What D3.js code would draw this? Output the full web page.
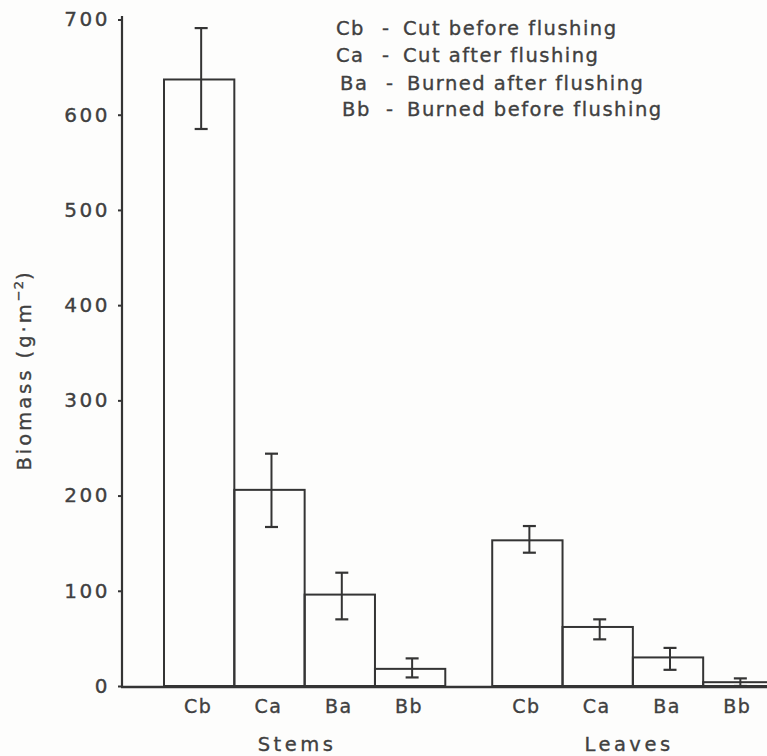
<!DOCTYPE html>
<html>
<head>
<meta charset="utf-8">
<script src="https://cdn.jsdelivr.net/npm/d3@7"></script>
<style>
  html, body { margin: 0; padding: 0; background: #fdfdfc; }
  svg { display: block; }
  text { font-family: "DejaVu Sans", sans-serif; fill: #404040; stroke: #404040; stroke-width: 0.35px; }
</style>
</head>
<body>
<svg id="chart" width="767" height="756"></svg>
<script>
// ---- data ----
const groups = ["Stems", "Leaves"];
const treatments = ["Cb", "Ca", "Ba", "Bb"];
const stemsMean  = [637, 206, 96, 18];
const stemsLow   = [585, 167, 70, 9];
const stemsHigh  = [691, 244, 119, 29];
const leavesMean = [153, 62, 30, 4];
const leavesLow  = [140, 49, 17, 0];
const leavesHigh = [168, 70, 40, 8];
const yTicks = [0, 100, 200, 300, 400, 500, 600, 700];
const legendCodes  = ["Cb", "Ca", "Ba", "Bb"];
const legendLabels = ["Cut before flushing", "Cut after flushing", "Burned after flushing", "Burned before flushing"];

const means = { Stems: stemsMean, Leaves: leavesMean };
const lows  = { Stems: stemsLow,  Leaves: leavesLow };
const highs = { Stems: stemsHigh, Leaves: leavesHigh };
const rows = [];
groups.forEach(g => treatments.forEach((t, i) => rows.push({
  group: g, t, v: means[g][i], lo: lows[g][i], hi: highs[g][i]
})));

// ---- layout ----
const svg = d3.select("#chart");
const ink = "#343434";
const txt = "#404040";
const axisX = 122, baseY = 686;

const y = d3.scaleLinear().domain([0, 700]).range([baseY, 19.5]);
const x0 = d3.scaleBand().domain(groups).range([164, 773.5]).paddingInner(0.143).paddingOuter(0);
const x1 = d3.scaleBand().domain(treatments).range([0, x0.bandwidth()]).padding(0);

// bars
const g = svg.append("g");
g.selectAll("rect.bar").data(rows).enter().append("rect")
  .attr("class", "bar")
  .attr("x", d => x0(d.group) + x1(d.t))
  .attr("y", d => y(d.v))
  .attr("width", x1.bandwidth())
  .attr("height", d => y(0) - y(d.v))
  .attr("fill", "none")
  .attr("stroke", ink)
  .attr("stroke-width", 2);

// error bars
const cap = 6.5;
const eb = g.selectAll("g.err").data(rows).enter().append("g").attr("class", "err")
  .attr("transform", d => `translate(${x0(d.group) + x1(d.t) + x1.bandwidth() / 2 + 2},0)`);
eb.append("line").attr("x1", 0).attr("x2", 0)
  .attr("y1", d => y(d.lo)).attr("y2", d => y(d.hi))
  .attr("stroke", ink).attr("stroke-width", 2);
eb.append("line").attr("x1", -cap).attr("x2", cap)
  .attr("y1", d => y(d.hi)).attr("y2", d => y(d.hi))
  .attr("stroke", ink).attr("stroke-width", 2.2);
eb.append("line").attr("x1", -cap).attr("x2", cap)
  .attr("y1", d => y(d.lo)).attr("y2", d => y(d.lo))
  .attr("stroke", ink).attr("stroke-width", 2.2);

// y axis
const yAxis = svg.append("g").attr("transform", `translate(${axisX},0)`)
  .call(d3.axisLeft(y).tickValues(yTicks).tickSize(4).tickPadding(8).tickSizeOuter(0));
yAxis.select(".domain").remove();
yAxis.selectAll(".tick line").attr("stroke", ink).attr("stroke-width", 2);
yAxis.selectAll(".tick text")
  .style("font-family", "DejaVu Sans").style("font-size", "20px")
  .style("letter-spacing", "2.5px").attr("fill", txt).attr("dx", "0px");
svg.append("line").attr("x1", axisX).attr("x2", axisX).attr("y1", 16).attr("y2", baseY + 1)
  .attr("stroke", ink).attr("stroke-width", 2.2);

// x axis baseline
svg.append("line").attr("x1", axisX - 1).attr("x2", 767).attr("y1", baseY + 1).attr("y2", baseY + 1)
  .attr("stroke", ink).attr("stroke-width", 2.4);

// category labels
groups.forEach(gr => {
  const ax = svg.append("g").attr("transform", `translate(${x0(gr)},${baseY})`)
    .call(d3.axisBottom(x1).tickSize(0).tickPadding(14));
  ax.select(".domain").remove();
  ax.selectAll(".tick text")
    .style("font-family", "DejaVu Sans").style("font-size", "19px")
    .style("letter-spacing", "1.5px").attr("fill", txt).attr("dx", "-1px");
});

// group labels
svg.selectAll("text.grp").data(groups).enter().append("text")
  .attr("class", "grp")
  .attr("x", d => d === "Stems" ? 297 : 629)
  .attr("y", 751)
  .attr("text-anchor", "middle")
  .style("font-size", "19.5px").style("letter-spacing", "3.5px")
  .text(d => d);

// y title
const yt = svg.append("text")
  .attr("transform", "translate(31,370) rotate(-90)")
  .attr("text-anchor", "middle")
  .style("font-size", "19.5px").style("letter-spacing", "3px");
yt.append("tspan").text("Biomass (g\u00B7m");
yt.append("tspan").attr("dy", "-8").style("font-size", "13px").style("letter-spacing", "1px").text("\u22122");
yt.append("tspan").attr("dy", "8").text(")");

// legend
const legY = [35, 62, 90, 116];
const codeX = [336, 336, 340, 342];
const descX = [403, 403, 407, 407];
const leg = svg.selectAll("g.leg").data(legendCodes).enter().append("g").attr("class", "leg");
leg.append("text").attr("x", (d, i) => codeX[i]).attr("y", (d, i) => legY[i])
  .style("font-size", "19.5px").style("letter-spacing", "1.5px").text(d => d);
leg.append("text").attr("x", (d, i) => descX[i] - 21).attr("y", (d, i) => legY[i])
  .style("font-size", "19.5px").text("-");
leg.append("text").attr("x", (d, i) => descX[i]).attr("y", (d, i) => legY[i])
  .style("font-size", "19.5px").style("letter-spacing", "1.5px").text((d, i) => legendLabels[i]);
</script>
</body>
</html>
